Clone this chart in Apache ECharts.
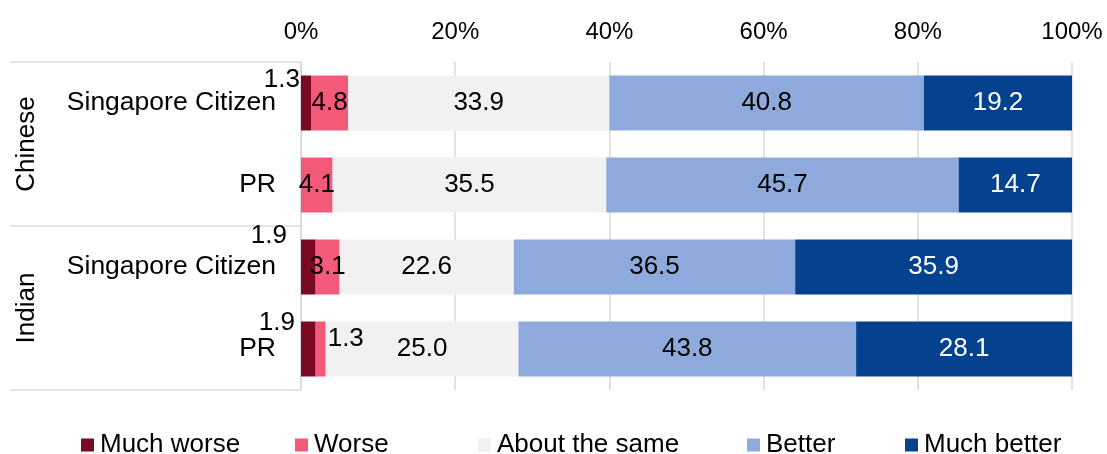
<!DOCTYPE html>
<html>
<head>
<meta charset="utf-8">
<script src="https://cdn.jsdelivr.net/npm/echarts@6/dist/echarts.min.js"></script>
<style>
html,body{margin:0;padding:0;background:#fff;}
#chart{width:1107px;height:454px;}
</style>
</head>
<body>
<div id="chart"></div>
<script>
const categories = ['Singapore Citizen', 'PR', 'Singapore Citizen', 'PR'];
const rowGroup = ['Chinese', 'Chinese', 'Indian', 'Indian'];
const groups = ['Chinese', 'Indian'];
const seriesNames = ['Much worse', 'Worse', 'About the same', 'Better', 'Much better'];
const muchWorse = [1.3, 0, 1.9, 1.9];
const worse = [4.8, 4.1, 3.1, 1.3];
const aboutSame = [33.9, 35.5, 22.6, 25.0];
const better = [40.8, 45.7, 36.5, 43.8];
const muchBetter = [19.2, 14.7, 35.9, 28.1];
const xTickValues = [0, 20, 40, 60, 80, 100];

const FONT = "'Liberation Sans', Arial, sans-serif";
const colors = ['#7A0A24', '#F35A7A', '#F1F1F1', '#8EA9DB', '#04418F'];
const labelColors = ['#000', '#000', '#000', '#000', '#fff'];
const values = [muchWorse, worse, aboutSame, better, muchBetter];

// label placement overrides (styling only)
const labelOverrides = [
  [{position: [-1, 4], align: 'right', verticalAlign: 'middle'}, null,
   {position: [-14, -4], align: 'right', verticalAlign: 'middle'},
   {position: [-6, 1.5], align: 'right', verticalAlign: 'middle'}],
  [null, null, null, {position: 'right', distance: 2, offset: [0, -10]}],
  [null, null, null, null],
  [null, null, null, null],
  [null, null, null, null]
];

const keys = categories.map((c, i) => rowGroup[i] + '|' + c);

const series = seriesNames.map((name, si) => ({
  name: name,
  type: 'bar',
  stack: 'total',
  barWidth: 55,
  itemStyle: {color: colors[si]},
  label: {
    show: true,
    position: 'inside',
    fontFamily: FONT,
    fontSize: 26,
    color: labelColors[si],
    formatter: p => (p.value > 0 ? Number(p.value).toFixed(1) : '')
  },
  data: values[si].map((v, i) => {
    const o = labelOverrides[si][i];
    return o ? {value: v, label: o} : v;
  })
}));

const legendLefts = [81, 295, 478, 747, 905];
const legends = seriesNames.map((n, i) => ({
  data: [n],
  left: legendLefts[i],
  top: 432,
  icon: 'rect',
  itemWidth: 13,
  itemHeight: 13,
  padding: 0,
  selectedMode: false,
  textStyle: {fontFamily: FONT, fontSize: 26, color: '#000', padding: [0, 0, 0, 1]}
}));

const chart = echarts.init(document.getElementById('chart'));
chart.setOption({
  animation: false,
  backgroundColor: '#fff',
  grid: {left: 301, right: 35, top: 62, bottom: 64},
  legend: legends,
  xAxis: {
    type: 'value',
    position: 'top',
    min: xTickValues[0],
    max: xTickValues[xTickValues.length - 1],
    interval: xTickValues[1] - xTickValues[0],
    axisLine: {show: false},
    axisTick: {show: false},
    axisLabel: {formatter: '{value}%', fontFamily: FONT, fontSize: 24, color: '#000', margin: 18},
    splitLine: {show: true, lineStyle: {color: '#D9D9D9', width: 1.5}}
  },
  yAxis: [
    {
      type: 'category',
      inverse: true,
      data: keys,
      position: 'left',
      axisLine: {show: true, lineStyle: {color: '#D9D9D9', width: 1.5}},
      axisTick: {show: false},
      axisLabel: {
        fontFamily: FONT, fontSize: 26.5, color: '#000', margin: 25,
        formatter: v => v.split('|')[1]
      }
    },
    {
      type: 'category',
      inverse: true,
      data: groups,
      position: 'left',
      offset: 291,
      axisLine: {show: false},
      axisTick: {show: true, inside: true, length: 291, lineStyle: {color: '#D9D9D9', width: 1.5}},
      axisLabel: {
        inside: true, rotate: 90, margin: 17, align: 'center', verticalAlign: 'middle',
        fontFamily: FONT, fontSize: 26, color: '#000'
      }
    }
  ],
  series: series
});
</script>
</body>
</html>
